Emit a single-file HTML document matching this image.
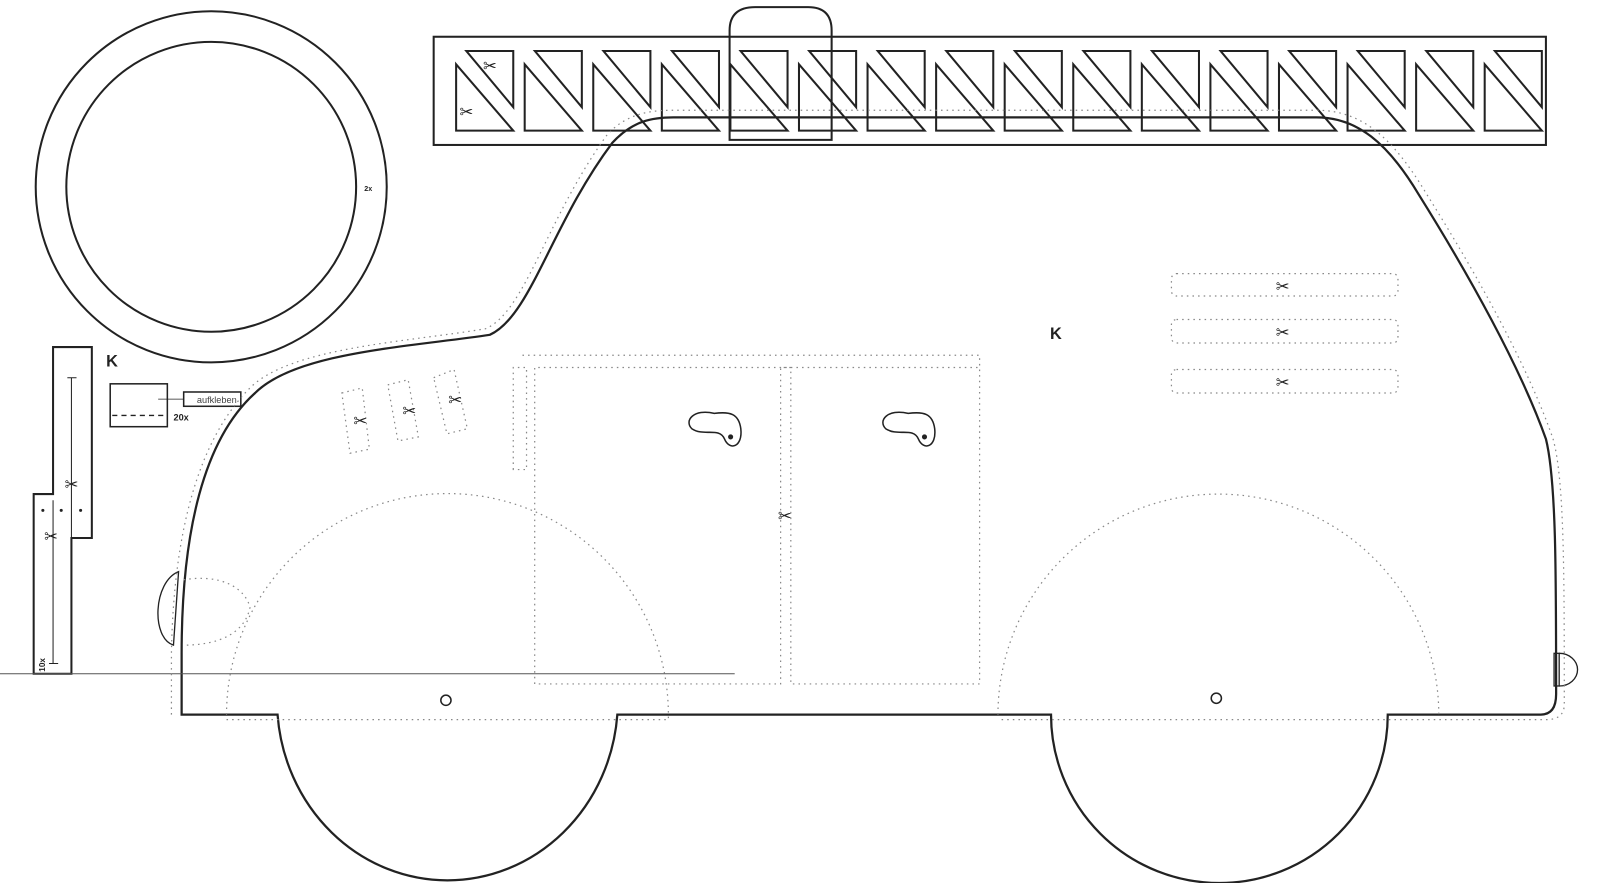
<!DOCTYPE html>
<html><head><meta charset="utf-8"><style>
html,body{margin:0;padding:0;background:#fff;width:1600px;height:883px;overflow:hidden}
svg{display:block}
text{font-family:"Liberation Sans",sans-serif}
</style></head><body>
<svg width="1600" height="883" viewBox="0 0 1568 865" preserveAspectRatio="none" xmlns="http://www.w3.org/2000/svg">
<g fill="none" stroke="#222" stroke-width="2">
<circle cx="207" cy="183" r="172"/>
<circle cx="207" cy="183" r="142"/>
<rect x="425" y="36" width="1090" height="106"/>
<path id="cell" d="M447 63 L503 128 L447 128 Z M457 50 L503 50 L503 105 Z"/>
<use href="#cell" x="67.2"/><use href="#cell" x="134.4"/><use href="#cell" x="201.6"/>
<use href="#cell" x="268.8"/><use href="#cell" x="336"/><use href="#cell" x="403.2"/>
<use href="#cell" x="470.4"/><use href="#cell" x="537.6"/><use href="#cell" x="604.8"/>
<use href="#cell" x="672"/><use href="#cell" x="739.2"/><use href="#cell" x="806.4"/>
<use href="#cell" x="873.6"/><use href="#cell" x="940.8"/><use href="#cell" x="1008"/>
<path d="M715 137 L715 30 Q715 7 740 7 L792 7 Q815 7 815 30 L815 137 Z"/>
<path d="M178 700 L178 640 C178 520 200 430 250 385 C290 345 400 340 480 328 C520 310 540 220 600 140 C620 118 640 115 660 115 L1290 115 C1330 115 1360 140 1390 190 C1440 270 1490 360 1515 430 C1525 470 1525 560 1525 680 Q1525 700 1510 700 L1360 700 A165 165 0 0 1 1030 700 L605 700 A167 176 0 0 1 272 700 Z" stroke-width="2.2"/>
<path d="M175 560 C150 570 148 625 170 632 Z" stroke-width="1.3"/>
<rect x="1523" y="640" width="5" height="32" stroke-width="1.3"/>
<path d="M1528 640 A18 16 0 0 1 1528 672" stroke-width="1.3"/>
<path d="M52 340 L90 340 L90 527 L70 527 L70 660 L33 660 L33 484 L52 484 Z"/>
<g stroke-width="1"><path d="M70 370 L70 655 M66 370 L75 370 M48 650 L57 650 M52 490 L52 650"/></g>
<rect x="108" y="376" width="56" height="42" stroke-width="1.5"/>
<path d="M110 407 L162 407" stroke-dasharray="5 4" stroke-width="1.3"/>
<rect x="180" y="384" width="56" height="14" stroke-width="1.5"/>
<path d="M155 391 L180 391" stroke-width="0.8"/>
<path d="M0 660 L720 660" stroke="#555" stroke-width="1"/>
</g>
<g fill="none" stroke="#888" stroke-width="1.2" stroke-dasharray="1.5 4">
<path d="M168 700 L168 640 C170 520 195 430 245 380 C285 340 400 335 476 322 C515 305 535 215 595 132 C615 110 640 108 660 108 L1290 108 C1335 108 1365 135 1398 190 C1448 270 1498 360 1522 430 C1533 470 1533 560 1533 690 Q1533 705 1515 705 L980 705"/>
<path d="M222 700 A216 216 0 0 1 655 700 L655 705 L222 705"/>
<path d="M978 700 A216 216 0 0 1 1410 700"/>
<path d="M512 348 L960 348 L960 670 L775 670 L775 360 L765 360 L765 670 L524 670 L524 360 L960 360"/>
<path d="M503 460 L503 360 L516 360 L516 460 Z"/>
<rect x="1148" y="268" width="222" height="22" rx="5"/>
<rect x="1148" y="313" width="222" height="23" rx="5"/>
<rect x="1148" y="362" width="222" height="23" rx="5"/>
<path d="M335 385 L355 380 L362 440 L343 444 Z M380 377 L400 372 L410 428 L390 432 Z M425 370 L445 362 L458 420 L438 425 Z"/>
<path d="M180 568 C215 562 240 575 245 595 C240 620 215 632 180 632"/>
</g>
<g fill="none" stroke="#222" stroke-width="1.5">
<path d="M700 405 C680 400 670 412 678 420 C690 428 705 418 710 430 C715 442 728 438 726 420 C724 405 715 403 700 405 Z"/>
<path d="M890 405 C870 400 860 412 868 420 C880 428 895 418 900 430 C905 442 918 438 916 420 C914 405 905 403 890 405 Z"/>
<circle cx="437" cy="686" r="5"/><circle cx="1192" cy="684" r="5"/>
</g>
<circle cx="716" cy="428" r="2.5" fill="#222"/><circle cx="906" cy="428" r="2.5" fill="#222"/>
<g fill="#222">
<text x="104" y="359" font-size="16" font-weight="bold" font-family="Liberation Serif">K</text>
<text x="1029" y="332" font-size="16" font-weight="bold" font-family="Liberation Serif">K</text>
<text x="193" y="395" font-size="9" fill="#444">aufkleben</text>
<text x="170" y="412" font-size="9" font-weight="bold">20x</text>
<text x="357" y="187" font-size="7" font-weight="bold">2x</text>
<text x="44" y="658" font-size="8" font-weight="bold" transform="rotate(-90 44 658)">10x</text>
</g>
<g font-size="16" fill="#222" text-anchor="middle">
<text x="480" y="70">✂</text><text x="457" y="115">✂</text>
<text x="1257" y="286">✂</text><text x="1257" y="331">✂</text><text x="1257" y="380">✂</text>
<text x="353" y="418">✂</text><text x="401" y="408">✂</text><text x="446" y="397">✂</text>
<text x="769" y="511">✂</text><text x="70" y="480">✂</text><text x="50" y="531">✂</text>
</g>
<g fill="#222"><circle cx="42" cy="500" r="1.5"/><circle cx="60" cy="500" r="1.5"/><circle cx="79" cy="500" r="1.5"/></g>
</svg>
</body></html>
